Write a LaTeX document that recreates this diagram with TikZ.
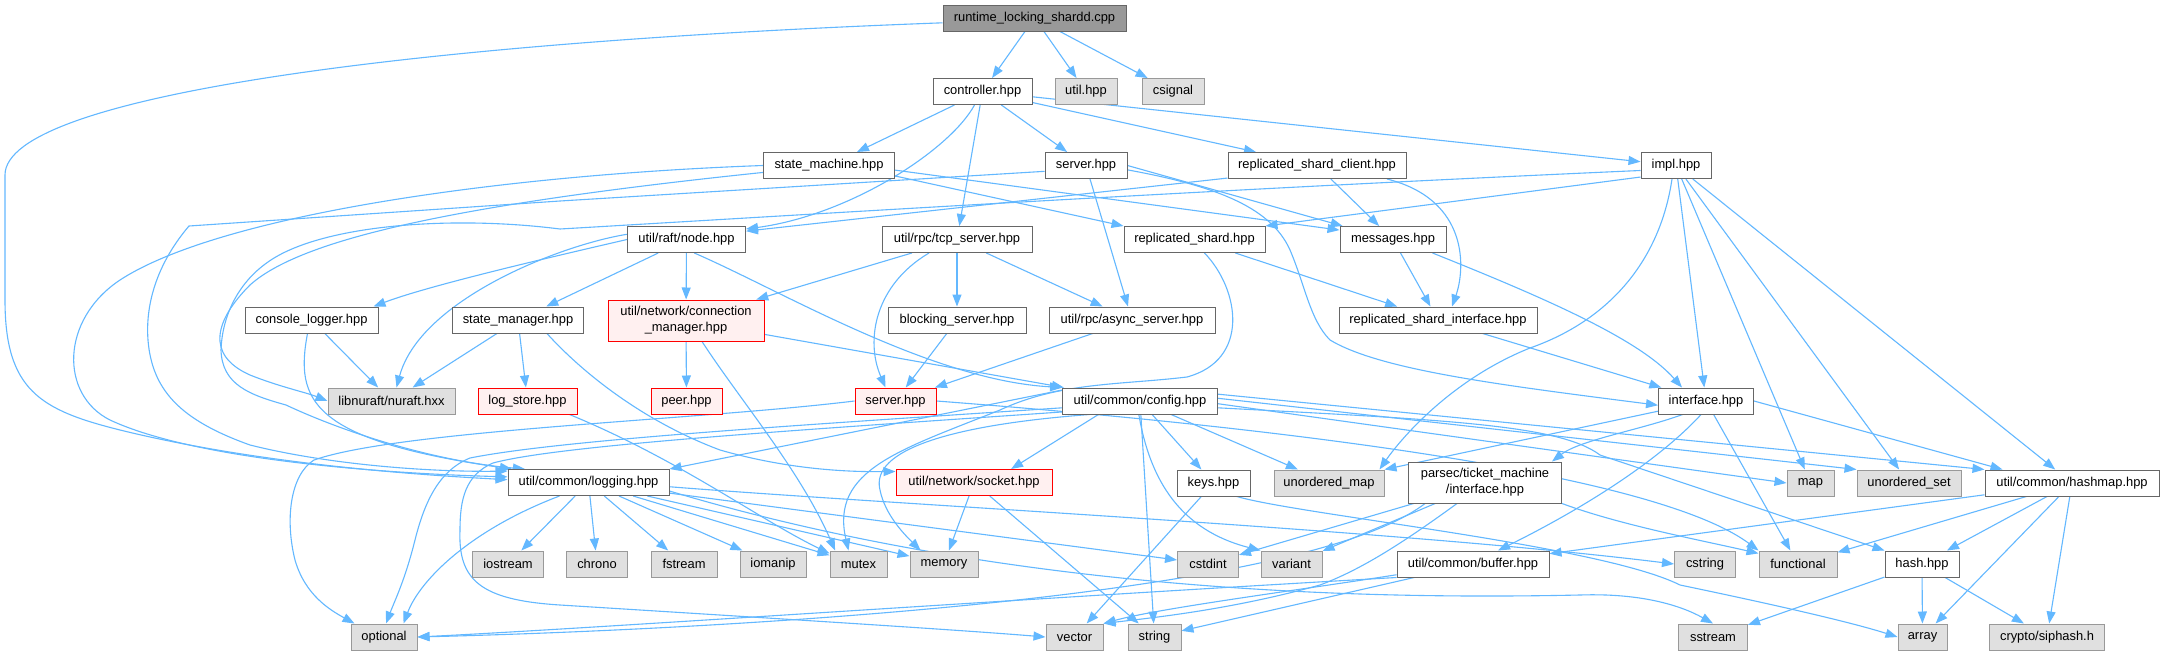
\documentclass[tikz,border=0pt]{standalone}
\usepackage{fontspec}
\setmainfont{Liberation Sans}
\usetikzlibrary{arrows.meta,calc}
\pgfdeclarelayer{bglayer}
\pgfdeclarelayer{edgelayer}
\pgfsetlayers{bglayer,edgelayer,main}
\definecolor{edgec}{HTML}{63B8FF}
\definecolor{bgray}{HTML}{666666}
\definecolor{lgray}{HTML}{E0E0E0}
\definecolor{mgray}{HTML}{999999}
\definecolor{rfill}{HTML}{FFF0F0}
\begin{document}
\begin{tikzpicture}[x=1pt,y=-1pt,
  font=\fontsize{12.9}{16}\selectfont,
  nb/.style={draw=bgray,line width=1pt,fill=white,minimum height=26pt,inner sep=0pt,text=black,align=center},
  gb/.style={nb,draw=mgray,fill=lgray},
  rb/.style={nb,draw=red,fill=rfill},
  mb/.style={nb,draw=bgray,fill=mgray},
  tall/.style={minimum height=41pt},
  e/.style={draw=edgec,line width=1.1pt,-{Triangle[length=12pt,width=9pt]}}]
\begin{pgfonlayer}{bglayer}
\fill[white] (0,0) rectangle (2164,656);
\end{pgfonlayer}
\useasboundingbox (0,0) rectangle (2164,656);
% row 0-1
\node[mb,minimum width=183pt] (main) at (1034.5,18) {runtime\_locking\_shardd.cpp};
\node[nb,minimum width=99pt] (controller) at (982.5,91.5) {controller.hpp};
\node[gb,minimum width=62pt] (utilh) at (1086,91.5) {util.hpp};
\node[gb,minimum width=62pt] (csignal) at (1173,91.5) {csignal};
% row 2
\node[nb,minimum width=131pt] (sm) at (829,165.5) {state\_machine.hpp};
\node[nb,minimum width=82pt] (serverw) at (1086,165.5) {server.hpp};
\node[nb,minimum width=178pt] (rsc) at (1317,165.5) {replicated\_shard\_client.hpp};
\node[nb,minimum width=70pt] (impl) at (1676,165.5) {impl.hpp};
% row 3
\node[nb,minimum width=118pt] (node) at (686.5,239.5) {util/raft/node.hpp};
\node[nb,minimum width=150pt] (tcp) at (957,239.5) {util/rpc/tcp\_server.hpp};
\node[nb,minimum width=141pt] (rshard) at (1194.5,239.5) {replicated\_shard.hpp};
\node[nb,minimum width=106pt] (messages) at (1393,239.5) {messages.hpp};
% row 4
\node[nb,minimum width=133pt] (console) at (311.5,320) {console\_logger.hpp};
\node[nb,minimum width=131pt] (stmgr) at (518,320) {state\_manager.hpp};
\node[rb,minimum width=156pt,tall] (connmgr) at (686,320.5) {util/network/connection\\\_manager.hpp};
\node[nb,minimum width=138pt] (blocking) at (957,320) {blocking\_server.hpp};
\node[nb,minimum width=166pt] (async) at (1132,320) {util/rpc/async\_server.hpp};
\node[nb,minimum width=198pt] (rsi) at (1438,320) {replicated\_shard\_interface.hpp};
% row 5
\node[gb,minimum width=127pt] (libnuraft) at (391.5,401) {libnuraft/nuraft.hxx};
\node[rb,minimum width=99pt] (logstore) at (527.5,401) {log\_store.hpp};
\node[rb,minimum width=71pt] (peer) at (686.5,401) {peer.hpp};
\node[rb,minimum width=81pt] (serverr) at (895.5,401) {server.hpp};
\node[nb,minimum width=155pt] (config) at (1140,401) {util/common/config.hpp};
\node[nb,minimum width=95pt] (interface) at (1706,401) {interface.hpp};
% row 6
\node[nb,minimum width=161pt] (logging) at (588.5,482.5) {util/common/logging.hpp};
\node[rb,minimum width=156pt] (socket) at (974,482.5) {util/network/socket.hpp};
\node[nb,minimum width=73pt] (keys) at (1213.5,483) {keys.hpp};
\node[gb,minimum width=110pt] (umap) at (1329,483) {unordered\_map};
\node[nb,minimum width=153pt,tall] (parsec) at (1485,482.5) {parsec/ticket\_machine\\/interface.hpp};
\node[gb,minimum width=47pt] (map) at (1810.5,483) {map};
\node[gb,minimum width=104pt] (uset) at (1909,483) {unordered\_set};
\node[nb,minimum width=174pt] (hashmap) at (2072,483) {util/common/hashmap.hpp};
% row 7
\node[gb,minimum width=71pt] (iostream) at (508,564) {iostream};
\node[gb,minimum width=61pt] (chrono) at (597,564) {chrono};
\node[gb,minimum width=66pt] (fstream) at (684,564) {fstream};
\node[gb,minimum width=66pt] (iomanip) at (773,564) {iomanip};
\node[gb,minimum width=57pt] (mutex) at (858.5,564) {mutex};
\node[gb,minimum width=68pt] (memory) at (944,564) {memory};
\node[gb,minimum width=61pt] (cstdint) at (1208,564) {cstdint};
\node[gb,minimum width=61pt] (variant) at (1291.5,564) {variant};
\node[nb,minimum width=152pt] (buffer) at (1473,564) {util/common/buffer.hpp};
\node[gb,minimum width=61pt] (cstring) at (1705,564) {cstring};
\node[gb,minimum width=78pt] (functional) at (1798,564) {functional};
\node[nb,minimum width=74pt] (hash) at (1922,564) {hash.hpp};
% row 8
\node[gb,minimum width=66pt] (optional) at (384,637) {optional};
\node[gb,minimum width=57pt] (vector) at (1074.5,637) {vector};
\node[gb,minimum width=53pt] (string) at (1154.5,637) {string};
\node[gb,minimum width=69pt] (sstream) at (1713,637) {sstream};
\node[gb,minimum width=49pt] (array) at (1922.5,637) {array};
\node[gb,minimum width=115pt] (siphash) at (2047,637) {crypto/siphash.h};

\begin{pgfonlayer}{edgelayer}
% main
\draw[e] (main) -- (controller);
\draw[e] (main) -- (utilh);
\draw[e] (main) -- (csignal);
\draw[e] (main.-177) .. controls (420,42) and (5,95) .. (5,175) -- (5,300) .. controls (5,390) and (40,410) .. (120,430) .. controls (250,462) and (400,474) .. (logging.178);
% controller
\draw[e] (controller) -- (sm);
\draw[e] ($(controller.south)+(-8,0)$) .. controls (950,150) and (850,215) .. (node.10);
\draw[e] (controller) -- (tcp);
\draw[e] (controller) -- (serverw);
\draw[e] (controller) -- (rsc);
\draw[e] (controller) -- (impl);
% state_machine
\draw[e] (sm.west) .. controls (500,175) and (220,215) .. (120,280) .. controls (60,320) and (60,395) .. (110,420) .. controls (200,462) and (400,474) .. (logging.176);
\draw[e] (sm.-174) .. controls (450,205) and (300,240) .. (250,285) .. controls (215,320) and (205,355) .. (250,375) .. controls (280,387) and (305,392) .. (libnuraft.west);
\draw[e] (sm.-9) -- (rshard.north west);
\draw[e] (sm.-4) -- (messages.170);
% server (white)
\draw[e] (serverw.-172) -- (560,201) -- (189,226) .. controls (160,260) and (145,300) .. (148,340) .. controls (152,390) and (180,420) .. (250,445) .. controls (330,465) and (430,472) .. (logging.172);
\draw[e] (serverw) -- (async);
\draw[e] (serverw.east) -- (messages.165);
\draw[e] (serverw.-6) .. controls (1210,185) and (1270,205) .. (1290,250) .. controls (1305,285) and (1310,320) .. (1330,340) .. controls (1380,370) and (1500,385) .. (interface.-175);
% replicated_shard_client
\draw[e] (rsc.-172) -- (node.8);
\draw[e] (rsc) -- (messages);
\draw[e] ($(rsc.south)+(70,0)$) .. controls (1470,200) and (1465,270) .. ($(rsi.north)+(14,0)$);
% impl
\draw[e] (impl.-172) .. controls (1200,190) and (800,215) .. (560,229) .. controls (450,215) and (320,225) .. (268,262) .. controls (235,285) and (222,320) .. (221,350) .. controls (222,385) and (250,395) .. (286,405) .. controls (350,435) and (440,462) .. (logging.168);
\draw[e] (impl.-162) -- (rshard.north east);
\draw[e] (impl) -- (interface);
\draw[e] (impl) -- (map);
\draw[e] (impl) -- (uset);
\draw[e] (impl) -- (hashmap);
\draw[e] ($(impl.south)+(-4,0)$) .. controls (1660,260) and (1610,320) .. (1530,348) .. controls (1450,380) and (1400,440) .. ($(umap.north east)+(-5,0)$);
% messages
\draw[e] (messages) -- (rsi);
\draw[e] ($(messages.south east)+(-14,0)$) .. controls (1550,300) and (1640,340) .. ($(interface.north)+(-24,0)$);
% replicated_shard
\draw[e] (rshard) -- (rsi);
\draw[e] ($(rshard.south)+(10,0)$) .. controls (1240,290) and (1250,360) .. (1187,377) .. controls (1120,385) and (1060,382) .. (1000,410) .. controls (900,450) and (830,470) .. ($(mutex.north)+(-10,0)$);
% replicated_shard_interface
\draw[e] (rsi) -- (interface);
% node
\draw[e] (node) -- (stmgr);
\draw[e] (node) -- (connmgr);
\draw[e] (node.west) .. controls (560,255) and (430,285) .. ($(console.north east)+(-5,0)$);
\draw[e] (node.175) .. controls (560,245) and (420,300) .. ($(libnuraft.north)+(5,0)$);
\draw[e] (node.-60) .. controls (780,290) and (930,380) .. (config.north west);
% tcp_server
\draw[e] (tcp) -- (connmgr);
\draw[e] (tcp) -- (blocking);
\draw[e] (tcp) -- (async);
\draw[e] ($(tcp.south)+(-28,0)$) .. controls (875,285) and (865,340) .. ($(serverr.north)+(-10,0)$);
\draw[e] (blocking) -- (serverr);
\draw[e] (async) -- (serverr);
% console_logger
\draw[e] (console) -- (libnuraft);
\draw[e] ($(console.south)+(-4,0)$) .. controls (295,400) and (310,440) .. (logging.170);
% state_manager
\draw[e] (stmgr) -- (libnuraft);
\draw[e] (stmgr) -- (logstore);
\draw[e] (stmgr.-25) .. controls (580,370) and (640,420) .. (720,450) .. controls (790,470) and (850,472) .. (socket.172);
% connection_manager
\draw[e] (connmgr) -- (peer);
\draw[e] ($(connmgr.south)+(16,0)$) .. controls (740,400) and (800,470) .. (mutex.150);
\draw[e] (connmgr) -- (config);
% log_store
\draw[e] ($(logstore.south east)+(-8,0)$) .. controls (680,460) and (760,520) .. (mutex.160);
% server (red)
\draw[e] (serverr.west) .. controls (700,420) and (400,430) .. (314,460) .. controls (290,475) and (285,520) .. (295,560) .. controls (305,595) and (330,610) .. ($(optional.north west)+(4,0)$);
\draw[e] (serverr.east) .. controls (1250,425) and (1650,470) .. (functional.north west);
% config
\draw[e] (config.172) -- (logging.north east);
\draw[e] (config.-162) -- (socket.20);
\draw[e] (config.185) .. controls (800,425) and (560,440) .. (470,458) .. controls (440,470) and (425,500) .. (415,540) .. controls (405,580) and (395,600) .. ($(optional.north)+(2,0)$);
\draw[e] (config.188) .. controls (800,430) and (560,445) .. (493,463) .. controls (465,475) and (460,500) .. (460,530) .. controls (458,580) and (480,600) .. (560,605) .. controls (800,620) and (960,630) .. (vector.west);
\draw[e] (config.-165) .. controls (950,425) and (870,450) .. (880,490) .. controls (885,515) and (905,535) .. (memory.150);
\draw[e] (config) -- (keys);
\draw[e] (config) -- (umap);
\draw[e] (config) -- (string);
\draw[e] (config.-95) .. controls (1150,480) and (1180,530) .. (variant.north west);
\draw[e] (config.5) -- (hashmap.north west);
\draw[e] (config.2) -- (uset.north west);
\draw[e] (config.-2) -- (map.west);
\draw[e] (config.-5) .. controls (1450,420) and (1560,425) .. (1600,455) -- (hash.north west);
% logging
\draw[e] (logging) -- (iostream);
\draw[e] (logging) -- (chrono);
\draw[e] (logging) -- (fstream);
\draw[e] (logging) -- (iomanip);
\draw[e] (logging) -- (mutex);
\draw[e] (logging) -- (memory);
\draw[e] ($(logging.south west)+(52,0)$) .. controls (470,530) and (420,580) .. ($(optional.north east)+(-14,0)$);
\draw[e] (logging) -- (cstdint);
\draw[e] (logging.-3) .. controls (900,505) and (1400,530) .. (cstring.west);
\draw[e] (logging.-6) .. controls (1000,590) and (1350,600) .. (1580,595) .. controls (1640,593) and (1680,605) .. (sstream.north);
% keys
\draw[e] (keys) -- (vector);
\draw[e] (keys.-30) .. controls (1300,515) and (1600,545) .. (1680,585) .. controls (1800,610) and (1860,625) .. (array.west);
% parsec interface
\draw[e] (parsec) -- (cstdint);
\draw[e] (parsec) -- (variant);
\draw[e] ($(parsec.south)+(-28,0)$) .. controls (1400,545) and (1360,570) .. (1320,585) .. controls (1230,610) and (1150,618) .. (vector.north east);
\draw[e] (parsec.south east) .. controls (1620,525) and (1700,540) .. (functional.165);
\draw[e] ($(parsec.south)+(-60,0)$) .. controls (1300,600) and (700,630) .. (optional.east);
% buffer
\draw[e] (buffer) -- (string);
\draw[e] (buffer.-172) .. controls (1300,590) and (1160,608) .. (vector.north east);
\draw[e] (buffer.south west) .. controls (1000,600) and (600,628) .. (optional.east);
% socket
\draw[e] (socket) -- (memory);
\draw[e] (socket) -- (string);
% interface
\draw[e] (interface.-168) -- (umap.north east);
\draw[e] (interface.-150) .. controls (1640,430) and (1580,440) .. ($(parsec.north east)+(-10,0)$);
\draw[e] (interface) -- (functional);
\draw[e] (interface.-110) .. controls (1650,470) and (1560,520) .. ($(buffer.north)+(25,0)$);
\draw[e] (interface.east) -- ($(hashmap.north west)+(18,0)$);
% hashmap
\draw[e] (hashmap) -- (hash);
\draw[e] (hashmap) -- (array);
\draw[e] (hashmap) -- (siphash);
\draw[e] (hashmap) -- (buffer);
\draw[e] (hashmap) -- (functional);
% hash
\draw[e] (hash) -- (sstream);
\draw[e] (hash) -- (array);
\draw[e] (hash) -- (siphash);
\end{pgfonlayer}
\end{tikzpicture}
\end{document}
